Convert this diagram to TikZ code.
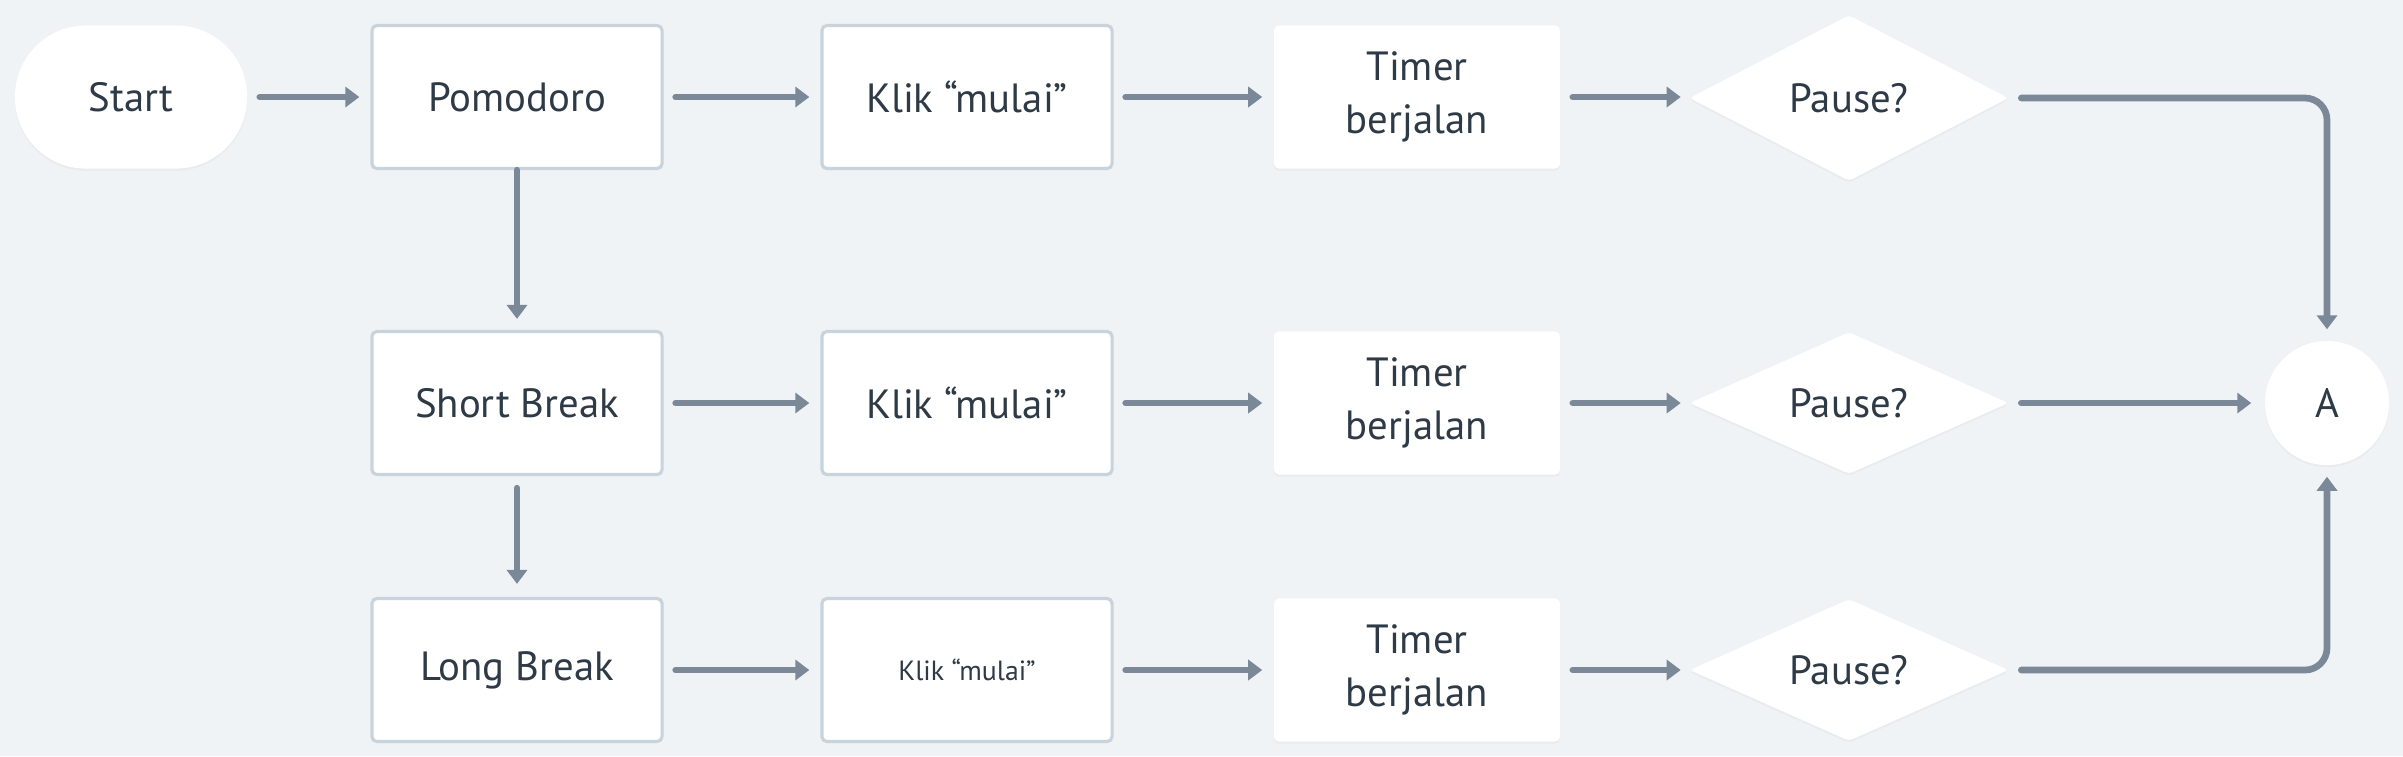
\documentclass[tikz,border=0pt]{standalone}
\usepackage{fontspec}
\setmainfont{PT Sans}
\usetikzlibrary{arrows.meta,shapes.geometric,shadows}
\definecolor{bgc}{HTML}{EFF3F6}
\definecolor{bordc}{HTML}{C9D3DC}
\definecolor{arrc}{HTML}{7A8898}
\definecolor{txtc}{HTML}{2E3A46}
\tikzset{
  base/.style={fill=white, text=txtc, inner sep=0pt, align=center,
    font=\fontsize{11.6}{15.2}\selectfont},
  soft/.style={drop shadow={opacity=0.06, shadow xshift=0pt, shadow yshift=-0.6pt}},
  procbox/.style={base, draw=bordc, line width=0.9pt, rounded corners=0.05cm,
    minimum width=2.9cm, minimum height=1.43cm},
  timerbox/.style={base, soft, rounded corners=0.05cm,
    minimum width=2.86cm, minimum height=1.43cm},
  startnode/.style={base, soft, rounded corners=0.71cm,
    minimum width=2.32cm, minimum height=1.43cm},
  decision/.style={base, soft, shape=diamond, aspect=2.2, rounded corners=0.04cm,
    minimum width=3.19cm, minimum height=1.42cm},
  connector/.style={base, soft, shape=circle, minimum size=1.24cm},
  flow/.style={draw=arrc, line width=1.9pt, line cap=round,
    -{Triangle[length=0.14cm, width=0.2cm]},
    shorten <=0.12cm, shorten >=0.11cm},
}
\begin{document}
\begin{tikzpicture}[x=0.01cm, y=-0.01cm]
\fill[bgc] (0,0) rectangle (2403,756);
\useasboundingbox (0,0) rectangle (2403,756);

\node[startnode] (start) at (131,97) {Start};
\node[procbox] (pom) at (517,97) {Pomodoro};
\node[procbox] (k1) at (967,97) {Klik “mulai”};
\node[timerbox] (t1) at (1417,97) {Timer\\berjalan};
\node[decision, aspect=1.92, minimum height=1.66cm] (d1) at (1849,98) {Pause?};

\node[procbox] (sb) at (517,403) {Short Break};
\node[procbox] (k2) at (967,403) {Klik “mulai”};
\node[timerbox] (t2) at (1417,403) {Timer\\berjalan};
\node[decision] (d2) at (1849,403) {Pause?};

\node[procbox] (lb) at (517,670) {Long Break};
\node[procbox, font=\fontsize{7.9}{10}\selectfont] (k3) at (967,670) {Klik “mulai”};
\node[timerbox] (t3) at (1417,670) {Timer\\berjalan};
\node[decision] (d3) at (1849,670) {Pause?};

\node[connector] (a) at (2327,403) {A};

\draw[flow] (start) -- (pom);
\draw[flow] (pom) -- (k1);
\draw[flow] (k1) -- (t1);
\draw[flow, shorten >=0.08cm] (t1) -- (d1.west |- t1.east);
\draw[flow] (sb) -- (k2);
\draw[flow] (k2) -- (t2);
\draw[flow, shorten >=0.08cm] (t2) -- (d2);
\draw[flow] (lb) -- (k3);
\draw[flow] (k3) -- (t3);
\draw[flow, shorten >=0.08cm] (t3) -- (d3);

\draw[flow, shorten <=0pt] (pom) -- (sb);
\draw[flow, shorten >=0.13cm] (sb) -- (lb);

\draw[flow, rounded corners=0.22cm] (d1.east) -- (a.north |- d1.east) -- (a.north);
\draw[flow, shorten >=0.13cm] (d2.east) -- (a.west);
\draw[flow, rounded corners=0.22cm] (d3.east) -- (a.south |- d3.east) -- (a.south);
\end{tikzpicture}
\end{document}
